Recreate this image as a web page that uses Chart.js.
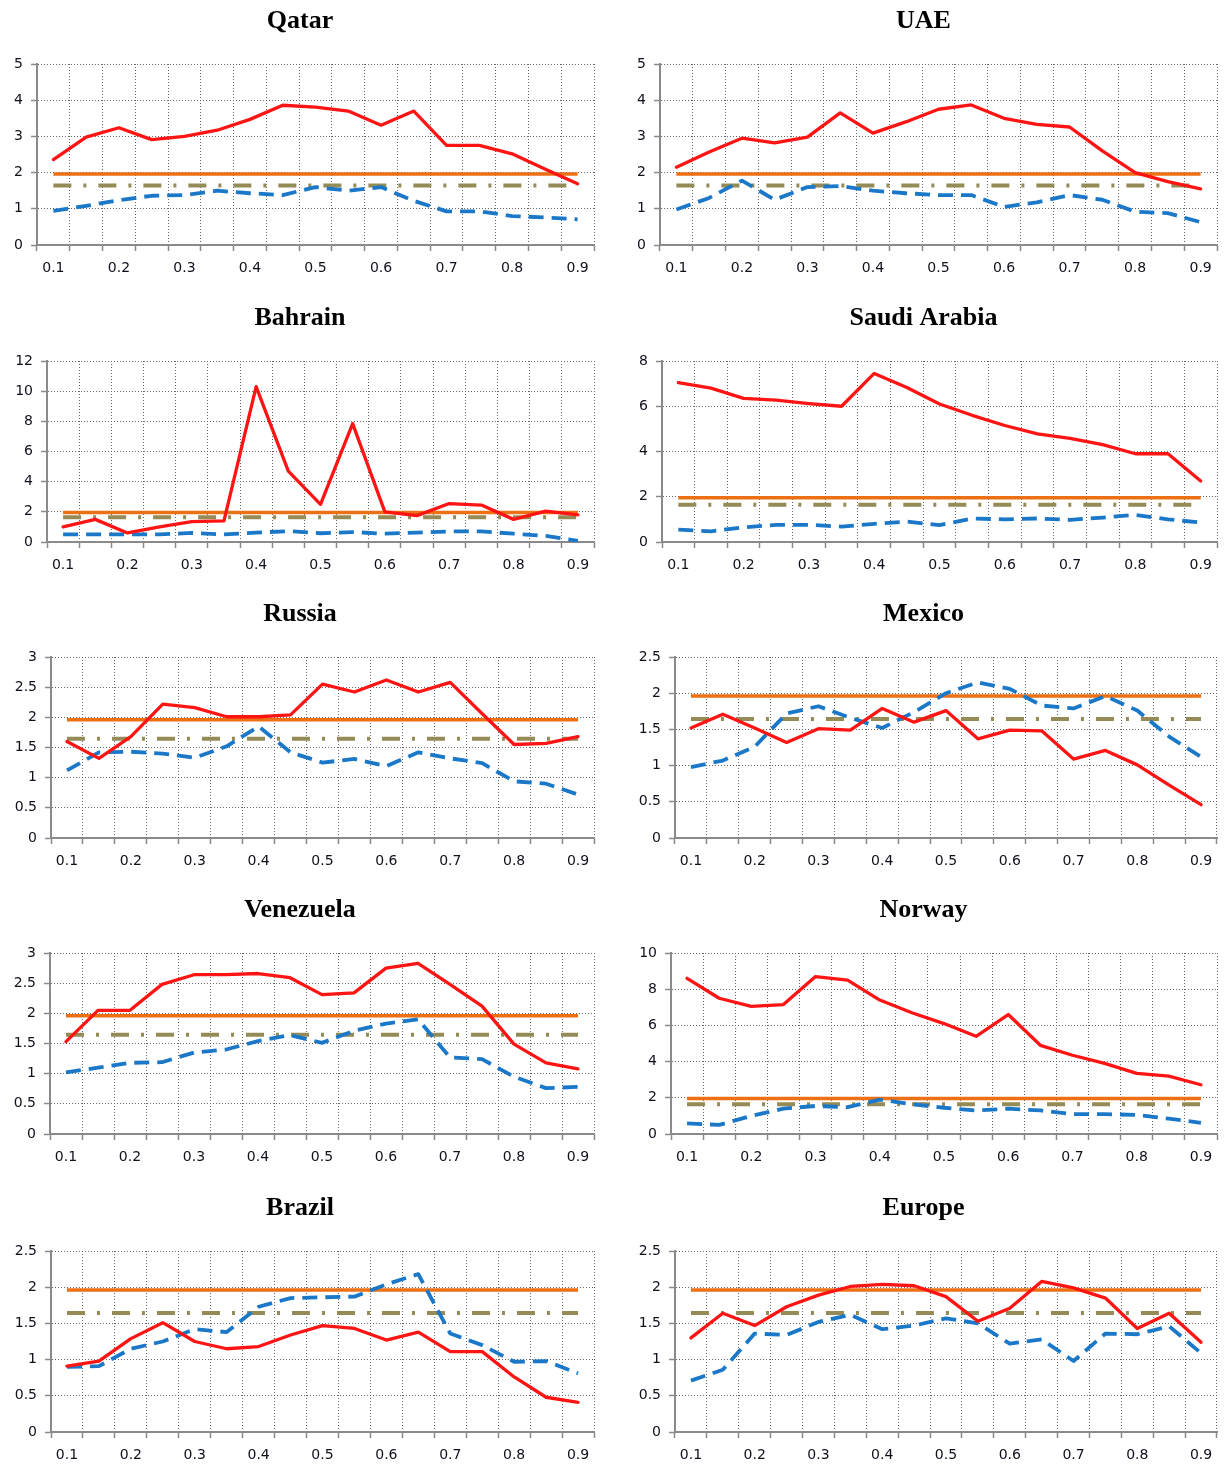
<!DOCTYPE html>
<html>
<head>
<meta charset="utf-8">
<script src="https://cdn.jsdelivr.net/npm/chart.js@4.4.1/dist/chart.umd.min.js"></script>
<style>
  html, body { margin: 0; padding: 0; background: #fff; overflow: hidden; width: 1225px; height: 1469px; }
  canvas.panel { position: absolute; }
</style>
</head>
<body>
<script>
// Quantile levels on the horizontal axis
const quantiles = ['0.1','0.15','0.2','0.25','0.3','0.35','0.4','0.45','0.5','0.55','0.6','0.65','0.7','0.75','0.8','0.85','0.9'];

// Critical values (5% and 10% two-sided)
const crit196  = [1.96,1.96,1.96,1.96,1.96,1.96,1.96,1.96,1.96,1.96,1.96,1.96,1.96,1.96,1.96,1.96,1.96];
const crit1645 = [1.645,1.645,1.645,1.645,1.645,1.645,1.645,1.645,1.645,1.645,1.645,1.645,1.645,1.645,1.645,1.645,1.645];

// Test statistics per market (red = solid series, blue = dashed series)
const qatarRed   = [2.36,2.98,3.24,2.91,3.0,3.17,3.47,3.86,3.81,3.7,3.31,3.7,2.75,2.75,2.52,2.1,1.69];
const qatarBlue  = [0.94,1.08,1.24,1.36,1.38,1.5,1.43,1.38,1.6,1.5,1.6,1.22,0.93,0.93,0.8,0.76,0.71];

const uaeRed     = [2.15,2.57,2.95,2.82,2.98,3.65,3.09,3.4,3.75,3.87,3.5,3.33,3.26,2.6,2.0,1.75,1.55];
const uaeBlue    = [0.98,1.3,1.78,1.25,1.6,1.63,1.5,1.43,1.38,1.38,1.05,1.18,1.38,1.25,0.92,0.88,0.63];

const bahrainRed  = [1.0,1.5,0.6,1.0,1.35,1.4,10.3,4.7,2.5,7.85,2.0,1.75,2.55,2.45,1.5,2.05,1.8];
const bahrainBlue = [0.5,0.5,0.5,0.5,0.6,0.5,0.62,0.72,0.58,0.66,0.55,0.62,0.7,0.7,0.55,0.4,0.08];

const saudiRed   = [7.04,6.8,6.35,6.27,6.12,6.0,7.45,6.83,6.1,5.6,5.15,4.78,4.58,4.3,3.9,3.9,2.7];
const saudiBlue  = [0.55,0.47,0.65,0.76,0.76,0.68,0.8,0.9,0.75,1.04,1.0,1.04,0.98,1.08,1.2,1.0,0.86];

const russiaRed  = [1.6,1.32,1.68,2.22,2.16,2.01,2.01,2.04,2.55,2.42,2.62,2.42,2.58,2.06,1.55,1.57,1.68];
const russiaBlue = [1.12,1.42,1.43,1.4,1.33,1.52,1.85,1.42,1.25,1.31,1.19,1.42,1.32,1.24,0.94,0.9,0.72];

const mexicoRed  = [1.52,1.71,1.52,1.32,1.51,1.49,1.79,1.6,1.76,1.37,1.49,1.48,1.09,1.21,1.01,0.73,0.46];
const mexicoBlue = [0.98,1.07,1.26,1.72,1.82,1.66,1.52,1.74,2.0,2.15,2.06,1.83,1.79,1.96,1.76,1.4,1.12];

const venezuelaRed  = [1.53,2.05,2.05,2.48,2.64,2.64,2.66,2.59,2.31,2.34,2.75,2.83,2.48,2.12,1.49,1.18,1.08];
const venezuelaBlue = [1.02,1.1,1.18,1.19,1.35,1.4,1.54,1.64,1.51,1.71,1.83,1.9,1.27,1.24,0.95,0.76,0.78];

const norwayRed  = [8.6,7.5,7.05,7.15,8.7,8.5,7.4,6.7,6.1,5.4,6.6,4.9,4.35,3.9,3.35,3.2,2.72];
const norwayBlue = [0.59,0.5,1.0,1.4,1.55,1.48,1.9,1.65,1.45,1.3,1.4,1.3,1.1,1.1,1.05,0.85,0.62];

const brazilRed  = [0.91,0.98,1.29,1.51,1.25,1.15,1.18,1.34,1.47,1.43,1.27,1.38,1.11,1.11,0.76,0.48,0.41];
const brazilBlue = [0.9,0.91,1.15,1.25,1.42,1.38,1.73,1.85,1.86,1.87,2.04,2.18,1.36,1.2,0.97,0.98,0.81];

const europeRed  = [1.3,1.64,1.47,1.73,1.89,2.01,2.04,2.02,1.87,1.53,1.71,2.08,1.99,1.85,1.43,1.64,1.24];
const europeBlue = [0.71,0.86,1.36,1.34,1.52,1.62,1.42,1.47,1.57,1.5,1.22,1.28,0.98,1.36,1.35,1.46,1.09];

// Panel titles and y-axis ranges
const titles = ['Qatar','UAE','Bahrain','Saudi Arabia','Russia','Mexico','Venezuela','Norway','Brazil','Europe'];
const redSeries  = [qatarRed, uaeRed, bahrainRed, saudiRed, russiaRed, mexicoRed, venezuelaRed, norwayRed, brazilRed, europeRed];
const blueSeries = [qatarBlue, uaeBlue, bahrainBlue, saudiBlue, russiaBlue, mexicoBlue, venezuelaBlue, norwayBlue, brazilBlue, europeBlue];
const yMaxes = [5, 5, 12, 8, 3, 2.5, 3, 10, 2.5, 2.5];
const ySteps = [1, 1, 2, 2, 0.5, 0.5, 0.5, 2, 0.5, 0.5];

// Layout of the 5x2 grid
const rowTops = [0, 297, 593, 889, 1187];
const colGeom = [
  { left: 6,   width: 612, padRight: 24 },
  { left: 630, width: 595, padRight: 8 }
];
const axisWidths = [31, 30, 41, 32, 45, 45, 44, 41, 45, 45];

Chart.defaults.font.family = "'DejaVu Sans', sans-serif";

const AXIS = '#8a8a8a';
const GRID = '#666666';
const TEXT = '#10101c';
const tickFont = { size: 14, family: "'DejaVu Sans', sans-serif" };

titles.forEach((title, i) => {
  const col = colGeom[i % 2];
  const canvas = document.createElement('canvas');
  canvas.className = 'panel';
  canvas.width = col.width;
  canvas.height = 297;
  canvas.style.left = col.left + 'px';
  canvas.style.top = rowTops[Math.floor(i / 2)] + 'px';
  canvas.style.width = col.width + 'px';
  canvas.style.height = '297px';
  document.body.appendChild(canvas);

  const yW = axisWidths[i];

  new Chart(canvas, {
    type: 'line',
    data: {
      labels: quantiles,
      datasets: [
        { data: redSeries[i], borderColor: '#ff1414', borderWidth: 3.3, order: 0,
          borderJoinStyle: 'round', borderCapStyle: 'round' },
        { data: blueSeries[i], borderColor: '#1b78c8', borderWidth: 3.8, borderDash: [15, 8], order: 1,
          borderJoinStyle: 'round', borderCapStyle: 'butt' },
        { data: crit196, borderColor: '#ee7015', borderWidth: 3.5, order: 2, borderCapStyle: 'butt' },
        { data: crit1645, borderColor: '#958b56', borderWidth: 4, borderDash: [18, 12, 3, 12], order: 3,
          borderCapStyle: 'butt' }
      ]
    },
    options: {
      responsive: false,
      animation: false,
      devicePixelRatio: 1,
      layout: { padding: { left: 0, right: col.padRight, top: 0, bottom: 0 } },
      elements: { point: { radius: 0 }, line: { tension: 0, fill: false } },
      plugins: {
        legend: { display: false },
        tooltip: { enabled: false },
        title: {
          display: true,
          text: title,
          color: '#000',
          font: { family: "'Liberation Serif', 'Times New Roman', serif", size: 26, weight: 'bold', lineHeight: 1.2 },
          padding: { top: 6, bottom: 26.8 }
        }
      },
      scales: {
        x: {
          type: 'category',
          offset: true,
          grid: { offset: true, color: GRID, lineWidth: 1, drawTicks: true, tickLength: 6,
                  tickColor: AXIS, tickWidth: 1.5 },
          border: { display: true, color: AXIS, width: 2, dash: [1, 2] },
          ticks: {
            autoSkip: false, maxRotation: 0, minRotation: 0, padding: 9, color: TEXT, font: tickFont,
            callback: function (v, idx) { return idx % 2 === 0 ? this.getLabelForValue(v) : ''; }
          },
          afterFit: s => { s.height = 52; }
        },
        y: {
          min: 0,
          max: yMaxes[i],
          grid: { color: GRID, lineWidth: 1, drawTicks: true, tickLength: 6, tickColor: AXIS, tickWidth: 1.5 },
          border: { display: true, color: AXIS, width: 2, dash: [1, 2] },
          ticks: { stepSize: ySteps[i], padding: 8, color: TEXT, font: tickFont,
                   callback: v => String(v) },
          afterFit: s => { s.width = yW; }
        }
      }
    }
  });
});
</script>
</body>
</html>
